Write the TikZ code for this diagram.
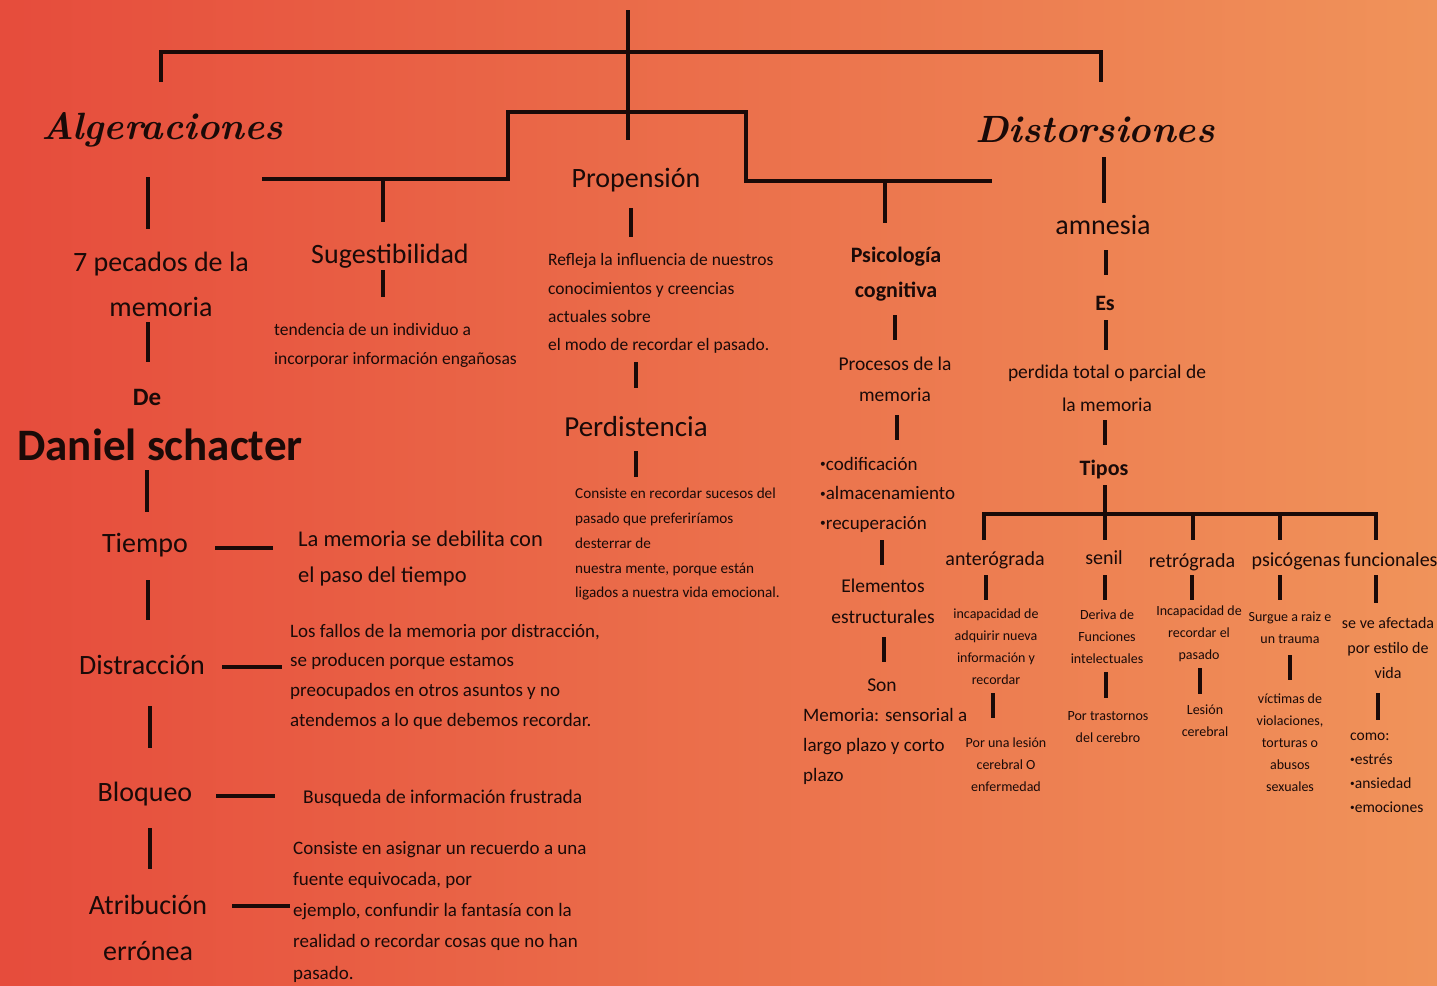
\documentclass[tikz,border=0pt]{standalone}
\usepackage{fontspec}
\newfontfamily\carl{Carlito}
\usetikzlibrary{calc}
\definecolor{ink}{RGB}{26,10,8}
\definecolor{bgL}{RGB}{230,76,60}
\definecolor{bgM}{RGB}{236,112,77}
\definecolor{bgR}{RGB}{240,147,90}
\newcommand\lnk[6]{\draw[conn] ($(#1)+(#2,#3)$) -- ($(#4)+(#5,#6)$);}
\newcommand\bul{\raisebox{0.12em}{\scalebox{0.6}{•}}}
\begin{document}
\begin{tikzpicture}[x=1pt,y=-1pt,
  every node/.style={inner sep=0pt, text=ink},
  conn/.style={draw=ink, line width=3.3pt},
  ttl/.style={font=\rmfamily\bfseries\itshape\fontsize{38}{40}\selectfont},
  big/.style={font=\carl\fontsize{28}{45}\selectfont, align=center},
  typ/.style={font=\carl\fontsize{20}{26}\selectfont},
  small/.style={font=\carl\fontsize{14}{22}\selectfont, align=center}]
\shade[left color=bgL, middle color=bgM, right color=bgR] (0,0) rectangle (1437,985);
\useasboundingbox (0,0) rectangle (1437,985);

% ---------- titles ----------
\node[ttl] (alg) at (162,130) {Algeraciones};
\node[ttl] (dis) at (1095,130) {Distorsiones};
\coordinate (top) at (628,10);
\coordinate (hub) at (628,52);
\coordinate (b2l) at (262,179);
\coordinate (b2p) at (508,112);
\coordinate (b2q) at (746,181);
\coordinate (b2r) at (992,181);

% ---------- left column ----------
\node[big] (pec) at (161,284.5) {7 pecados de la\\memoria};
\node[font=\carl\bfseries\fontsize{25}{28}\selectfont] (de) at (147,397) {De};
\node[font=\carl\bfseries\fontsize{45}{50}\selectfont] (dan) at (160,445) {Daniel schacter};
\node[big] (tie) at (145,545) {Tiempo};
\node[big] (dtr) at (142,665) {Distracción};
\node[big] (blo) at (145,794) {Bloqueo};
\node[big, font=\carl\fontsize{28}{46}\selectfont] (atr) at (148,928) {Atribución\\errónea};

\node[anchor=west, align=left, font=\carl\fontsize{22.5}{36}\selectfont] (tieD) at (298,558)
  {La memoria se debilita con\\el paso del tiempo};
\node[anchor=west, align=left, font=\carl\fontsize{19}{29.7}\selectfont] (dtrD) at (290,676.5)
  {Los fallos de la memoria por distracción,\\se producen porque estamos\\preocupados en otros asuntos y no\\atendemos a lo que debemos recordar.};
\node[anchor=west, font=\carl\fontsize{19.5}{24}\selectfont] (bloD) at (303,798)
  {Busqueda de información frustrada};
\node[anchor=west, align=left, font=\carl\fontsize{19}{31.25}\selectfont] (atrD) at (293,911.5)
  {Consiste en asignar un recuerdo a una\\fuente equivocada, por\\ejemplo, confundir la fantasía con la\\realidad o recordar cosas que no han\\pasado.};

% ---------- Sugestibilidad ----------
\node[big] (sug) at (390,256) {Sugestibilidad};
\node[anchor=west, align=left, font=\carl\fontsize{17.5}{29}\selectfont] (sugD) at (274,345.5)
  {tendencia de un individuo a\\incorporar información engañosas};

% ---------- Propensión ----------
\node[big] (prop) at (636,180) {Propensión};
\node[anchor=west, align=left, font=\carl\fontsize{17.5}{28.3}\selectfont] (propD) at (548,303.5)
  {Refleja la influencia de nuestros\\conocimientos y creencias\\actuales sobre\\el modo de recordar el pasado.};
\node[big, font=\carl\fontsize{29}{30}\selectfont] (per) at (636,427) {Perdistencia};
\node[anchor=west, align=left, font=\carl\fontsize{15.2}{24.75}\selectfont] (perD) at (575,544.5)
  {Consiste en recordar sucesos del\\pasado que preferiríamos\\desterrar de\\nuestra mente, porque están\\ligados a nuestra vida emocional.};

% ---------- Psicología cognitiva ----------
\node[align=center, font=\carl\bfseries\fontsize{22}{35}\selectfont] (psy) at (896,274.5) {Psicología\\cognitiva};
\node[align=center, font=\carl\fontsize{19.5}{31}\selectfont] (proc) at (895,379.5) {Procesos de la\\memoria};
\node[anchor=west, align=left, font=\carl\fontsize{19}{29.5}\selectfont] (cod) at (820,494.5)
  {\bul codificación\\\bul almacenamiento\\\bul recuperación};
\node[align=center, font=\carl\fontsize{19.5}{31}\selectfont] (ele) at (883,601.5) {Elementos\\estructurales};
\node[font=\carl\fontsize{19.5}{24}\selectfont] (son) at (882,685) {Son};
\node[anchor=west, align=left, font=\carl\fontsize{19}{30}\selectfont] (mem) at (803,746)
  {Memoria: sensorial a\\largo plazo y corto\\plazo};

% ---------- Distorsiones ----------
\node[big] (amn) at (1103,225) {amnesia};
\node[font=\carl\bfseries\fontsize{22}{24}\selectfont] (es) at (1105,303) {Es};
\node[align=center, font=\carl\fontsize{19.5}{33}\selectfont] (perd) at (1107,388.5) {perdida total o parcial de\\la memoria};
\node[font=\carl\bfseries\fontsize{22}{24}\selectfont] (tip) at (1104,470) {Tipos};

\node[typ] (ant) at (995,560) {anterógrada};
\node[typ] (sen) at (1104,558) {senil};
\node[typ] (ret) at (1192,562) {retrógrada};
\node[typ] (psi) at (1296,561) {psicógenas};
\node[typ] (fun) at (1391,560) {funcionales};

\node[small] (antD) at (996,647) {incapacidad de\\adquirir nueva\\información y\\recordar};
\node[small] (antE) at (1006,765) {Por una lesión\\cerebral O\\enfermedad};
\node[small] (senD) at (1107,636.5) {Deriva de\\Funciones\\intelectuales};
\node[small] (senE) at (1108,727) {Por trastornos\\del cerebro};
\node[small] (retD) at (1199,634) {Incapacidad de\\recordar el\\pasado};
\node[small] (retE) at (1205,721) {Lesión\\cerebral};
\node[small] (psiD) at (1290,628) {Surgue a raiz e\\un trauma};
\node[small] (psiE) at (1290,743) {víctimas de\\violaciones,\\torturas o\\abusos\\sexuales};
\node[align=center, font=\carl\fontsize{16}{25}\selectfont] (funD) at (1388,648) {se ve afectada\\por estilo de\\vida};
\node[anchor=west, align=left, font=\carl\fontsize{15.5}{24}\selectfont] (funE) at (1350,773)
  {como:\\\bul estrés\\\bul ansiedad\\\bul emociones};

% ---------- connectors ----------
\draw[conn] (top) -- ($(prop)+(-8,-40)$);
\draw[conn] ($(alg)+(-1,-48)$) |- (hub) -| ($(dis)+(6,-48)$);
\draw[conn] (b2l) -| (b2p) -| (b2q) -- (b2r);
\draw[conn] ($(b2l)+(121,0)$) -- ($(sug)+(-7,-34)$);
\draw[conn] ($(b2r)+(-107,0)$) -- ($(psy)+(-11,-51.5)$);

\lnk{alg}{-14}{47}{pec}{-13}{-55.5}
\lnk{pec}{-13}{37.5}{de}{1}{-35}
\lnk{dan}{-13}{25}{tie}{2}{-33}
\lnk{tie}{3}{35}{dtr}{6}{-45}
\lnk{dtr}{8}{41}{blo}{5}{-46}
\lnk{blo}{5}{34}{atr}{2}{-59}
\lnk{tie}{70}{3}{tieD.west}{-25}{-10}
\lnk{dtr}{80}{2}{dtrD.west}{-8}{-9.5}
\lnk{blo}{71}{2}{bloD.west}{-28}{-2}
\lnk{atr}{84}{-22}{atrD.west}{-3}{-5.5}

\lnk{sug}{-7}{14}{sugD.west}{109}{-48.5}
\lnk{prop}{-5}{28}{propD.west}{83}{-66.5}
\lnk{propD.west}{88}{58.5}{per}{0}{-39}
\lnk{per}{0}{24}{perD.west}{61}{-67.5}

\lnk{psy}{-1}{40.5}{proc}{0}{-39.5}
\lnk{proc}{2}{35.5}{cod.west}{77}{-54.5}
\lnk{cod.west}{62}{45.5}{ele}{-1}{-36.5}
\lnk{ele}{1}{35.5}{son}{2}{-23}

\lnk{dis}{9}{27}{amn}{1}{-22}
\lnk{amn}{3}{25}{es}{1}{-28}
\lnk{es}{1}{17}{perd}{-1}{-38.5}
\lnk{perd}{-2}{31.5}{tip}{1}{-25}
\lnk{tip}{1}{15}{sen}{1}{-18}
\draw[conn] ($(ant)+(-11,-20)$) |- ($(fun)+(-15,-46)$) -- ($(fun)+(-15,-20)$);
\draw[conn] ($(ret)+(1,-48)$) -- ($(ret)+(1,-22)$);
\draw[conn] ($(psi)+(-16,-47)$) -- ($(psi)+(-16,-21)$);

\lnk{ant}{-9}{15}{antD}{-10}{-47}
\lnk{antD}{-3}{46}{antE}{-13}{-47}
\lnk{sen}{1}{17}{senD}{-2}{-36.5}
\lnk{senD}{-1}{35.5}{senE}{-2}{-29}
\lnk{ret}{0}{13}{retD}{-7}{-34}
\lnk{retD}{1}{34}{retE}{-5}{-27}
\lnk{psi}{-16}{14}{psiD}{-10}{-28}
\lnk{psiD}{0}{27}{psiE}{0}{-63}
\lnk{fun}{-15}{15}{funD}{-12}{-45}
\lnk{funD}{-10}{45}{funE.west}{28}{-53}
\end{tikzpicture}
\end{document}
